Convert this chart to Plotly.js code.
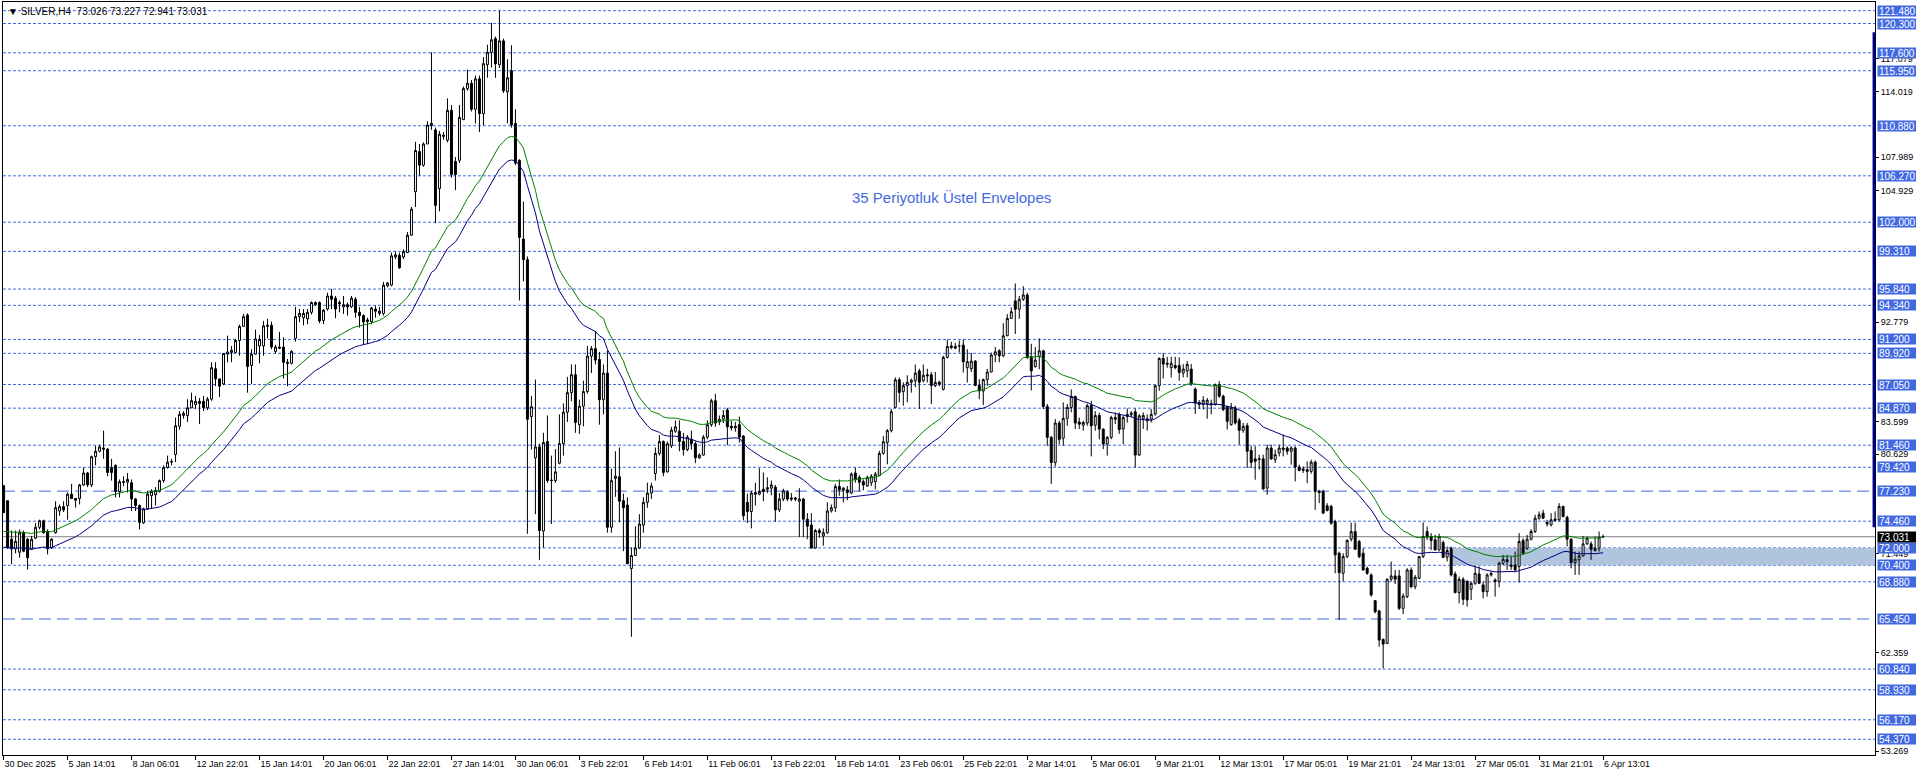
<!DOCTYPE html>
<html>
<head>
<meta charset="utf-8">
<script src="https://cdn.plot.ly/plotly-3.0.1.min.js"></script>
<style>html,body{margin:0;padding:0;background:#fff;}#chart{width:1916px;height:776px;}</style>
</head>
<body>
<div id="chart"></div>
<script>
// ---- DATA (SILVER, H4) ----
const opens = [
77.72,76.34,72.8,71.9,71.6,73.4,72.8,71.9,72.9,73.9,74.5,73.5,72.0,73.4,75.4,75.8,75.9,76.95,76.55,76.55,
77.8,78.9,77.8,80.4,80.9,81.2,81.1,79.4,79.6,77.2,78.1,78.05,78.0,76.5,75.9,74.3,75.6,76.8,76.9,77.2,
78.2,79.4,79.9,80.6,83.2,84.2,84.2,84.9,85.2,85.5,85.5,84.9,85.7,88.5,87.56,87.1,89.85,90.0,90.0,91.1,
92.4,93.45,88.8,89.85,90.6,90.6,92.4,92.5,90.1,90.5,90.5,89.1,89.0,91.3,93.3,93.2,93.1,93.7,94.4,94.6,
92.95,94.0,95.2,95.0,94.6,94.2,94.4,94.2,94.9,93.7,93.4,93.0,92.85,94.0,93.6,93.6,96.15,96.2,98.8,98.95,
98.8,99.2,100.8,104.8,108.5,107.25,109.2,110.9,110.5,105.1,109.9,109.55,112.3,107.6,107.7,111.45,114.3,114.8,112.4,115.2,
112.0,116.5,117.65,118.9,116.5,118.7,114.0,115.95,111.1,107.7,100.45,98.55,84.1,80.3,81.3,73.55,81.8,78.25,78.2,79.8,
81.6,84.5,86.3,87.95,83.35,85.05,86.4,89.65,90.35,89.35,85.65,88.1,73.9,78.4,78.55,76.35,75.95,70.1,71.3,72.0,
74.1,76.2,77.05,78.85,80.7,81.8,79.0,81.4,82.75,82.75,81.8,81.05,82.0,81.6,80.3,80.55,82.2,83.35,85.55,83.6,
83.85,84.7,83.2,83.05,83.35,82.3,76.2,75.35,77.1,76.95,77.4,77.4,77.5,77.6,75.5,76.5,77.15,76.6,76.6,76.3,
76.5,74.65,74.1,71.98,73.6,73.1,73.4,75.4,75.7,77.65,77.3,77.35,77.05,78.9,78.5,78.1,77.7,78.0,78.1,78.65,
80.7,81.7,82.8,84.94,87.49,86.4,86.95,87.25,87.4,88.3,87.4,87.95,87.95,86.95,87.25,86.6,89.55,90.6,90.55,90.6,
90.68,88.6,88.5,89.2,86.95,86.45,87.5,88.2,89.77,90.15,89.7,91.54,93.14,94.75,93.98,94.9,95.3,89.6,88.7,89.6,
90.15,85.03,82.18,79.87,83.5,82.1,83.93,84.94,85.95,83.6,83.3,83.5,85.15,83.3,84.2,82.94,81.56,82.18,84.0,84.3,
82.95,84.1,84.3,84.54,80.55,83.9,83.7,83.85,84.33,86.94,89.45,89.0,88.6,88.8,88.8,88.1,88.3,88.47,86.63,85.4,
85.2,85.3,85.3,85.2,87.05,85.97,84.99,83.35,84.9,83.76,82.83,83.26,80.98,80.2,80.13,80.2,77.51,81.2,80.13,80.74,
81.05,81.2,80.9,81.2,79.45,79.14,79.2,79.05,79.9,77.2,77.2,75.88,75.82,74.43,71.51,69.66,71.2,72.8,73.5,72.59,
71.51,70.13,69.51,67.14,66.2,63.57,63.2,69.11,69.42,69.42,66.43,67.51,69.97,68.43,69.2,71.2,73.51,73.05,72.74,71.82,
72.5,71.14,71.97,69.6,67.88,69.11,68.9,68.19,68.74,69.6,68.59,67.97,69.51,69.05,68.9,70.59,70.9,70.28,70.43,70.28,
72.68,71.97,72.8,73.51,74.74,75.2,74.34,74.12,74.66,74.59,75.82,74.82,72.8,70.65,70.9,71.26,72.37,72.37,71.76,71.97,
73.026];
const highs = [
77.8,76.4,73.6,73.6,73.7,73.6,72.9,73.1,74.3,74.6,74.6,73.7,72.9,76.3,76.0,76.3,77.1,77.9,76.6,77.9,
79.4,79.0,80.5,81.4,81.5,82.8,81.2,80.2,79.7,78.3,78.6,78.9,78.3,76.6,76.0,75.7,77.2,77.4,77.6,78.3,
79.6,80.5,80.2,84.0,84.6,84.6,85.7,86.3,86.0,85.8,86.0,85.9,89.1,89.1,87.6,89.95,91.55,90.6,91.25,92.55,
93.55,93.6,90.3,92.1,91.6,92.9,93.1,92.85,90.7,91.9,91.4,89.4,90.2,94.2,94.0,94.0,94.0,94.7,94.7,94.7,
94.0,95.5,95.85,95.2,94.8,95.2,94.6,95.2,95.1,94.2,93.5,93.2,94.2,94.3,94.2,96.5,96.5,99.2,99.3,99.2,
99.5,101.1,103.4,109.4,109.2,109.35,111.3,117.65,110.7,110.4,110.3,113.4,112.8,108.0,112.8,114.5,116.05,115.1,115.5,115.5,
117.2,118.35,120.35,119.1,121.48,118.9,117.0,118.3,112.4,107.8,103.9,98.85,86.0,87.5,81.6,82.6,84.2,80.5,81.1,84.3,
85.3,87.75,88.9,88.9,85.65,87.4,90.6,90.6,91.95,90.05,88.9,90.2,79.3,80.9,81.25,77.0,76.66,72.05,74.0,75.1,
76.66,78.0,78.0,81.25,82.4,81.9,81.8,83.15,83.75,83.75,82.6,82.4,82.8,81.8,80.7,82.4,83.75,85.75,86.2,84.2,
84.7,84.9,83.7,83.6,84.1,82.4,77.0,77.25,78.0,79.35,78.95,78.5,78.2,77.8,77.05,77.45,77.3,77.05,76.7,77.5,
76.6,75.2,75.2,73.75,73.8,73.8,76.2,76.0,77.9,78.3,77.6,77.7,78.95,79.4,78.7,78.3,78.65,78.8,79.0,80.95,
82.3,82.95,84.8,87.7,87.7,87.25,87.9,87.6,88.9,88.5,88.9,88.5,88.2,88.2,87.4,89.7,91.2,90.99,90.9,91.1,
91.2,90.3,89.95,89.3,87.55,87.6,88.5,89.99,90.5,90.3,92.7,93.54,94.15,96.36,95.2,96.1,95.5,90.8,90.5,91.3,
90.25,85.25,82.3,83.87,83.7,85.4,85.25,86.6,86.0,84.0,83.7,85.3,85.55,84.6,84.45,83.0,82.3,84.17,84.48,84.48,
84.17,84.85,84.6,84.85,84.32,84.48,84.3,84.8,87.0,89.55,89.95,89.6,89.6,89.6,89.55,88.93,89.2,88.93,86.78,85.6,
85.97,85.8,85.66,87.14,87.36,86.12,85.1,85.36,85.1,83.97,83.51,83.51,81.42,81.36,80.58,80.58,81.51,81.51,81.05,81.51,
82.43,81.36,81.36,81.36,79.66,79.5,79.97,80.13,80.05,77.36,77.36,76.12,75.97,74.59,71.66,71.51,72.8,74.34,74.34,72.74,
71.97,70.28,69.66,67.2,66.28,63.66,69.2,70.74,69.97,69.97,67.82,70.13,70.2,69.51,71.26,74.34,73.97,73.36,73.2,73.3,
72.68,72.13,72.13,69.82,69.36,69.3,69.05,68.9,70.28,70.28,68.9,69.66,69.82,69.2,70.74,71.36,71.36,71.2,71.66,73.36,
72.89,73.2,73.72,75.05,75.36,75.51,74.59,75.2,75.36,76.12,75.88,74.97,72.89,71.66,71.66,73.1,73.05,72.59,73.05,73.51,
73.227];
const lows = [
75.2,71.9,70.5,71.5,71.1,71.6,70.0,71.8,72.8,73.7,73.3,71.4,71.9,73.3,74.96,75.3,74.6,76.5,75.7,76.0,
77.7,77.6,77.6,79.6,80.8,80.2,78.6,78.2,76.65,76.65,77.7,77.1,75.4,75.4,73.7,74.2,75.5,75.6,75.9,77.1,
78.0,79.3,79.6,79.9,82.9,83.9,83.6,84.9,84.8,83.4,84.6,84.7,85.55,86.9,85.9,87.0,89.1,89.1,89.9,89.7,
92.4,86.3,87.1,89.8,89.0,89.7,91.3,90.3,89.9,90.3,87.6,86.9,88.9,91.0,92.8,92.5,92.6,93.5,94.3,92.7,
92.6,93.85,94.0,93.15,93.7,93.55,93.4,94.1,93.2,92.3,90.7,90.8,92.6,93.2,93.4,93.4,96.0,96.1,98.6,97.7,
98.6,99.15,100.75,103.4,106.3,107.1,109.2,110.5,101.9,103.0,109.6,109.35,106.1,104.95,107.45,111.4,114.1,112.2,111.1,110.3,
110.9,115.3,116.25,115.3,116.2,113.9,111.1,110.7,107.25,94.8,96.55,73.3,81.05,75.1,70.9,72.0,78.0,74.2,78.0,79.7,
80.5,83.6,85.5,82.6,82.5,83.2,86.2,88.1,88.9,83.35,84.3,73.4,73.4,76.7,74.35,71.7,70.5,63.8,71.3,71.9,
73.4,75.7,76.5,78.2,80.5,78.6,78.95,81.2,82.6,80.9,80.5,80.9,81.05,79.8,80.2,80.5,82.0,83.15,83.15,83.3,
83.5,81.45,82.8,82.7,81.7,74.55,74.3,73.8,75.9,76.85,76.3,77.05,76.85,74.4,75.3,76.3,76.3,76.3,76.3,73.0,
73.0,72.8,71.95,71.95,72.95,72.2,73.3,75.25,75.3,76.8,76.2,76.4,76.95,78.0,77.2,77.3,77.65,77.7,77.4,78.6,
80.6,79.7,82.64,84.85,85.4,85.1,85.4,86.3,86.8,84.8,87.25,87.25,85.25,86.8,86.9,86.5,89.45,90.3,90.3,90.0,
88.16,87.24,88.2,86.9,85.7,85.15,86.9,88.15,89.1,89.1,89.55,91.5,93.1,91.7,93.1,94.75,89.4,86.5,88.6,88.45,
84.79,81.4,77.9,79.5,81.56,81.4,83.25,84.5,82.95,82.95,82.8,83.25,80.43,82.8,82.0,81.1,80.5,82.0,83.4,82.5,
81.56,83.55,84.0,79.4,80.49,82.95,82.8,83.55,84.17,86.47,87.6,88.6,87.7,88.45,87.4,87.7,87.7,86.94,84.33,84.8,
84.74,83.9,84.3,85.1,85.82,84.59,82.9,83.26,83.36,81.51,82.6,79.36,79.36,78.28,79.2,77.36,76.9,80.13,79.82,80.43,
80.43,80.58,79.66,78.13,79.05,78.9,77.97,78.83,75.5,76.12,75.14,75.36,74.13,69.66,65.36,68.9,71.05,72.59,71.82,71.05,
69.91,69.51,67.51,65.97,62.9,60.9,63.14,68.9,68.68,66.28,65.9,67.36,68.28,68.19,69.11,71.05,72.74,71.82,71.75,71.75,
71.05,70.74,69.36,67.82,66.89,66.74,66.59,67.2,68.59,68.68,67.36,67.51,69.36,67.51,68.37,70.43,69.97,69.97,69.82,68.8,
71.36,71.82,72.68,73.36,74.59,74.66,73.97,73.97,74.43,74.43,74.82,72.13,70.13,69.51,69.51,71.2,72.28,70.9,71.66,71.66,
72.941];
const closes = [
75.26,72.03,71.9,72.6,73.4,71.7,71.1,72.8,73.9,74.5,73.4,71.9,72.8,75.7,75.8,75.5,76.95,76.55,76.4,77.8,
78.9,77.8,80.4,80.9,81.3,81.1,78.95,78.95,77.2,78.1,78.05,78.3,76.5,75.9,74.35,75.6,76.95,77.2,77.3,78.2,
79.4,79.9,79.95,83.25,84.3,84.4,84.9,85.56,85.5,85.3,84.9,85.7,88.6,87.56,86.9,89.9,90.05,90.2,91.1,92.4,
93.3,88.7,89.85,91.25,91.2,92.45,92.5,90.5,90.5,90.4,89.1,89.0,90.1,93.3,93.6,93.6,93.7,94.6,94.6,92.9,
93.9,95.2,94.9,94.0,94.5,94.4,94.2,95.0,93.7,93.4,92.8,92.85,94.1,93.8,93.8,96.2,96.4,98.9,99.0,97.8,
99.3,100.8,103.2,108.6,107.25,109.2,110.95,111.1,103.55,110.1,110.0,112.3,106.4,106.4,111.65,114.3,114.8,112.4,115.2,112.0,
116.6,117.65,118.8,116.6,118.7,114.1,115.3,110.95,107.45,100.6,98.55,83.85,85.0,81.3,73.6,81.7,78.2,78.2,79.0,81.6,
84.5,86.3,87.95,83.55,85.05,86.4,89.66,90.35,89.3,85.65,88.1,73.9,78.2,78.6,76.3,75.7,70.55,71.3,71.99,74.2,
76.2,77.05,77.7,80.7,81.8,78.95,81.6,82.85,83.15,81.8,81.05,82.2,81.6,80.3,80.55,82.2,83.35,85.55,83.5,83.85,
84.2,83.15,83.05,83.2,82.2,74.95,75.35,77.05,76.95,77.2,77.2,77.55,77.8,75.5,76.5,77.25,76.5,76.5,76.5,76.5,
74.65,74.0,71.98,73.6,73.4,73.4,75.4,75.7,77.65,77.35,77.5,77.1,78.8,78.3,78.05,77.8,78.5,78.6,78.8,80.7,
81.78,82.8,84.54,87.49,86.32,86.95,87.25,87.45,88.1,87.25,87.9,87.85,86.95,87.25,87.1,89.55,90.55,90.45,90.4,90.6,
89.15,89.15,89.2,86.95,86.45,87.5,88.2,89.77,90.06,89.7,91.54,93.14,93.75,93.98,94.9,95.3,89.55,88.3,89.3,90.15,
85.03,82.18,79.87,83.5,82.0,83.93,84.94,85.95,83.5,83.4,83.55,85.1,83.25,84.2,82.94,81.56,82.18,84.0,83.85,82.9,
84.0,84.3,84.4,80.55,84.17,84.2,83.9,84.3,86.94,89.45,88.93,88.93,89.0,88.6,88.16,88.47,88.9,87.1,85.34,85.2,
85.6,85.6,85.2,87.05,85.97,84.74,83.66,84.9,83.51,82.83,83.2,80.9,79.88,79.97,80.2,77.42,81.2,80.19,80.59,81.2,
81.2,80.9,81.2,79.45,79.14,79.28,79.05,79.9,77.2,77.1,75.2,75.45,74.28,71.36,69.72,71.2,72.68,73.5,71.88,71.2,
69.97,69.66,67.66,66.12,63.51,63.14,69.11,69.42,69.11,66.43,67.57,69.97,68.43,69.3,71.2,73.05,72.98,72.68,71.82,73.05,
71.14,71.76,69.51,67.88,69.11,67.26,67.2,68.74,69.66,68.74,67.97,69.51,69.66,68.9,70.59,70.96,70.74,70.43,69.97,72.59,
71.51,72.8,73.51,74.74,75.05,74.74,74.2,74.59,74.53,75.82,74.89,72.8,70.65,70.96,71.26,72.37,72.89,71.88,71.97,72.98,
73.031];

const xTickBars = [0,16,32,48,64,80,96,112,128,144,160,176,192,208,224,240,256,272,288,304,320,336,352,368,384,400];
const xTickLabels = ['30 Dec 2025','5 Jan 14:01','8 Jan 06:01','12 Jan 22:01','15 Jan 14:01','20 Jan 06:01','22 Jan 22:01','27 Jan 14:01','30 Jan 06:01','3 Feb 22:01','6 Feb 14:01','11 Feb 06:01','13 Feb 22:01','18 Feb 14:01','23 Feb 06:01','25 Feb 22:01','2 Mar 14:01','5 Mar 06:01','9 Mar 21:01','12 Mar 13:01','17 Mar 05:01','19 Mar 21:01','24 Mar 13:01','27 Mar 05:01','31 Mar 21:01','6 Apr 13:01'];

const yTicks = [117.079,114.019,107.989,104.929,92.779,83.599,80.629,71.449,62.359,53.269];

const levels = [121.48,120.30,117.60,115.95,110.88,106.27,102.00,99.31,95.84,94.34,91.20,89.92,87.05,84.87,81.46,79.42,77.23,74.46,72.00,70.40,68.88,65.45,60.84,58.93,56.17,54.37];
const longDashLevels = [77.23,65.45];
const currentPrice = 73.031;
const zoneLow = 70.40, zoneHigh = 72.00, zoneStartBar = 362;
const rangeBarTop = 119.5, rangeBarBottom = 73.9;
const headerText = '\u25BC SILVER,H4  73.026 73.227 72.941 73.031';
const envTitle = '35 Periyotluk \u00DCstel Envelopes';
const emaPeriod = 35, envDeviation = 0.01, emaSeed = 72.65;

// ---- indicator: 35-period exponential envelopes on close ----
const bars = closes.map((_, i) => i);
const kEma = 2 / (emaPeriod + 1);
let e = emaSeed;
const emaMid = closes.map(c => (e = e + kEma * (c - e)));
const envUpper = emaMid.map(v => v * (1 + envDeviation));
const envLower = emaMid.map(v => v * (1 - envDeviation));

const FONT = 'Liberation Sans, Arial, sans-serif';
const BLUE = '#4169E1';

const traces = [
  {
    type: 'candlestick', x: bars, open: opens, high: highs, low: lows, close: closes,
    increasing: {line: {color: '#000000', width: 1}, fillcolor: '#ffffff'},
    decreasing: {line: {color: '#000000', width: 1}, fillcolor: '#000000'},
    whiskerwidth: 0, hoverinfo: 'skip', showlegend: false
  },
  {type: 'scatter', mode: 'lines', x: bars, y: envUpper, line: {color: '#008000', width: 1}, hoverinfo: 'skip'},
  {type: 'scatter', mode: 'lines', x: bars, y: envLower, line: {color: '#000080', width: 1}, hoverinfo: 'skip'}
];

const shapes = [];
shapes.push({type: 'rect', xref: 'x', yref: 'y', x0: zoneStartBar, x1: 470, y0: zoneLow, y1: zoneHigh,
  fillcolor: '#B0C4DE', line: {width: 0}, layer: 'below'});
levels.forEach(v => {
  const isLong = longDashLevels.includes(v);
  shapes.push({type: 'line', xref: 'paper', yref: 'y', x0: 0, x1: 1, y0: v, y1: v, layer: 'below',
    line: {color: BLUE, width: 1, dash: isLong ? '12px,6px' : '3px,2px'}});
});
shapes.push({type: 'line', xref: 'paper', yref: 'y', x0: 0, x1: 1, y0: currentPrice, y1: currentPrice, layer: 'below',
  line: {color: '#808080', width: 1}});
shapes.push({type: 'line', xref: 'paper', yref: 'y', x0: 0.9995, x1: 0.9995, y0: rangeBarBottom, y1: rangeBarTop,
  line: {color: '#000080', width: 3}});

const annotations = [];
levels.forEach(v => {
  annotations.push({xref: 'paper', yref: 'y', x: 1, y: v, xanchor: 'left', yanchor: 'middle', xshift: 2,
    text: v.toFixed(3), showarrow: false, bgcolor: BLUE, borderpad: 1, width: 37, height: 8, align: 'left',
    font: {family: FONT, size: 10, color: '#ffffff'}});
});
annotations.push({xref: 'paper', yref: 'y', x: 1, y: currentPrice, xanchor: 'left', yanchor: 'middle', xshift: 2,
  text: currentPrice.toFixed(3), showarrow: false, bgcolor: '#000000', borderpad: 1, width: 37, height: 8, align: 'left',
  font: {family: FONT, size: 10, color: '#ffffff'}});
annotations.push({xref: 'x', yref: 'y', x: 237, y: 104.32, text: envTitle, showarrow: false,
  font: {family: FONT, size: 15, color: BLUE}});
annotations.push({xref: 'paper', yref: 'paper', x: 0, y: 1, xanchor: 'left', yanchor: 'top', xshift: 3, yshift: -2,
  text: headerText, showarrow: false, font: {family: FONT, size: 10, color: '#000000'}});

const layout = {
  width: 1916, height: 776,
  margin: {l: 3, r: 41, t: 2, b: 21, pad: 0},
  paper_bgcolor: '#ffffff', plot_bgcolor: '#ffffff',
  showlegend: false,
  xaxis: {
    range: [-0.15, 468], showgrid: false, zeroline: false,
    showline: true, mirror: true, linecolor: '#000000', linewidth: 1,
    tickmode: 'array', tickvals: xTickBars, ticktext: xTickLabels,
    ticks: 'outside', ticklen: 4, tickcolor: '#000000', tickwidth: 1,
    ticklabelposition: 'outside right',
    tickfont: {family: FONT, size: 9, color: '#000000'},
    rangeslider: {visible: false}, fixedrange: true
  },
  yaxis: {
    range: [52.925, 122.28], side: 'right', showgrid: false, zeroline: false,
    showline: true, mirror: true, linecolor: '#000000', linewidth: 1,
    tickmode: 'array', tickvals: yTicks, ticktext: yTicks.map(v => v.toFixed(3)),
    ticks: 'outside', ticklen: 3, tickcolor: '#000000',
    tickfont: {family: FONT, size: 9, color: '#000000'}, fixedrange: true
  },
  shapes: shapes,
  annotations: annotations
};

Plotly.newPlot('chart', traces, layout, {staticPlot: true, displayModeBar: false});
</script>
</body>
</html>
